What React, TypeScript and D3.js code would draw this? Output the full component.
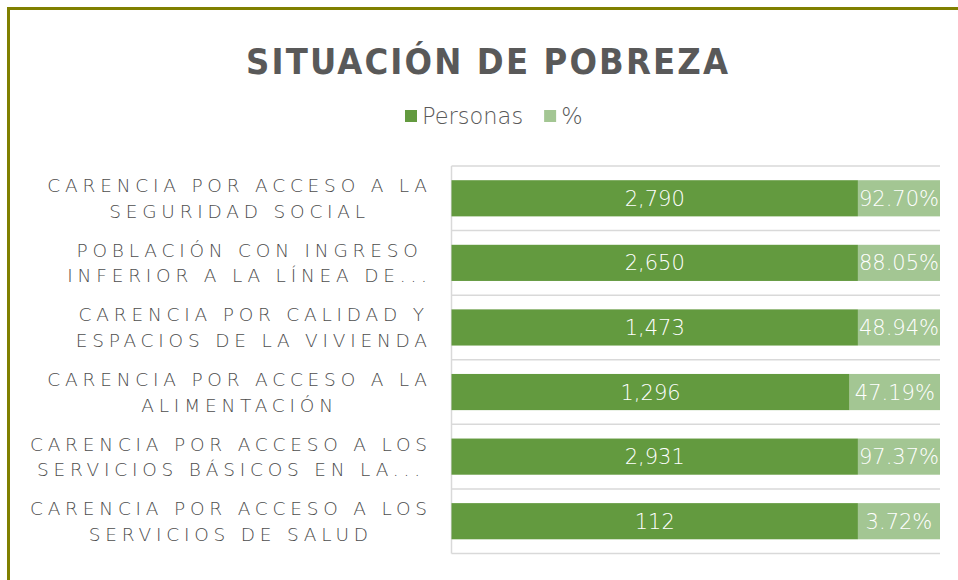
import React, { useEffect, useRef } from "react";
import * as d3 from "d3";

// ---- data ----
const categories: string[][] = [
  ["CARENCIA POR ACCESO A LA", "SEGURIDAD SOCIAL"],
  ["POBLACIÓN CON INGRESO", "INFERIOR A LA LÍNEA DE..."],
  ["CARENCIA POR CALIDAD Y", "ESPACIOS DE LA VIVIENDA"],
  ["CARENCIA POR ACCESO A LA", "ALIMENTACIÓN"],
  ["CARENCIA POR ACCESO A LOS", "SERVICIOS BÁSICOS EN LA..."],
  ["CARENCIA POR ACCESO A LOS", "SERVICIOS DE SALUD"],
];
const personas = [2790, 2650, 1473, 1296, 2931, 112];
const porcentaje = [92.7, 88.05, 48.94, 47.19, 97.37, 3.72];
// share of each bar's length taken by the "Personas" segment, as drawn in the picture
const personasShare = [0.832, 0.832, 0.832, 0.815, 0.832, 0.832];
const seriesNames = ["Personas", "%"];
const title = "SITUACIÓN DE POBREZA";

const COLORS = ["#639A3F", "#A3C693"];
const TEXT = "#595959";

export default function App() {
  const ref = useRef<SVGSVGElement | null>(null);

  useEffect(() => {
    document.body.style.margin = "0";
    const svg = d3.select(ref.current);
    svg.selectAll("*").remove();

    const plot = { left: 451.5, right: 940, top: 166, bottom: 553.5 };

    // border
    svg.append("path")
      .attr("d", `M8.5,580 L8.5,8.5 L958,8.5`)
      .attr("fill", "none")
      .attr("stroke", "#808000")
      .attr("stroke-width", 3);

    // title
    const tls = 4;
    const tt = svg.append("text")
      .attr("y", 74)
      .attr("text-anchor", "middle")
      .attr("font-family", "'DejaVu Sans Condensed', 'DejaVu Sans'")
      .attr("font-weight", "bold")
      .attr("font-size", 36)
      .attr("letter-spacing", tls)
      .attr("fill", TEXT)
      .text(title);
    const tw = (tt.node() as SVGTextElement).getComputedTextLength();
    // fit the visible width of the title to the picture (246..728)
    const targetW = 482;
    const adj = (targetW - (tw - tls)) / (title.length - 1);
    tt.attr("letter-spacing", tls + adj).attr("x", 487 + (tls + adj) / 2);

    // legend
    const lg = svg.append("g");
    let lx = 405;
    seriesNames.forEach((name, i) => {
      lg.append("rect").attr("x", lx).attr("y", 110).attr("width", 12).attr("height", 12).attr("fill", COLORS[i]);
      const t = lg.append("text")
        .attr("x", lx + 17)
        .attr("y", 123.5)
        .attr("font-family", "DejaVu Sans")
        .attr("font-weight", 300)
        .attr("font-size", 22.5)
        .attr("fill", TEXT)
        .text(name);
      const w = (t.node() as SVGTextElement).getComputedTextLength();
      lx = lx + 17 + w + 21;
    });

    const idx = d3.range(categories.length);
    const y = d3.scaleBand<number>().domain(idx).range([plot.top, plot.bottom]);
    const x = d3.scaleLinear().domain([0, 1]).range([plot.left, plot.right]);
    const bw = y.bandwidth();
    const barH = bw * 0.56;

    // gridlines
    const gridYs = idx.map((i) => y(i)!).concat([plot.bottom]);
    svg.append("g").selectAll("line").data(gridYs).join("line")
      .attr("x1", plot.left).attr("x2", plot.right)
      .attr("y1", (d) => d).attr("y2", (d) => d)
      .attr("stroke", "#D9D9D9").attr("stroke-width", 1.5);
    svg.append("line")
      .attr("x1", plot.left).attr("x2", plot.left)
      .attr("y1", plot.top).attr("y2", plot.bottom)
      .attr("stroke", "#D9D9D9").attr("stroke-width", 1.5);

    const fmtP = d3.format(",");
    const fmtPct = (v: number) => d3.format(".2f")(v) + "%";

    idx.forEach((i) => {
      const c = y(i)! + bw / 2;
      const split = personasShare[i];
      const segs = [
        { x0: 0, x1: split, label: fmtP(personas[i]), color: COLORS[0] },
        { x0: split, x1: 1, label: fmtPct(porcentaje[i]), color: COLORS[1] },
      ];
      segs.forEach((s) => {
        svg.append("rect")
          .attr("x", x(s.x0))
          .attr("y", c - barH / 2)
          .attr("width", x(s.x1) - x(s.x0))
          .attr("height", barH)
          .attr("fill", s.color);
        svg.append("text")
          .attr("x", (x(s.x0) + x(s.x1)) / 2)
          .attr("y", c + 7.5)
          .attr("text-anchor", "middle")
          .attr("font-family", "DejaVu Sans")
          .attr("font-weight", 300)
          .attr("font-size", 21)
          .attr("fill", "#FFFFFF")
          .text(s.label);
      });

      // category label (two centered lines, block right-aligned to axis)
      const ls = 4.8;
      const g = svg.append("g");
      const texts = categories[i].map((line, k) =>
        g.append("text")
          .attr("y", c - 6 + k * 25.5)
          .attr("text-anchor", "middle")
          .attr("font-family", "DejaVu Sans")
          .attr("font-weight", 300)
          .attr("font-size", 18.5)
          .attr("letter-spacing", ls)
          .attr("fill", "#4D4D4D")
          .text(line)
      );
      const maxW = d3.max(texts, (t) => (t.node() as SVGTextElement).getComputedTextLength()) || 0;
      texts.forEach((t) => t.attr("x", 427 + ls - maxW / 2));
    });
  }, []);

  return <svg ref={ref} width={958} height={580} style={{ display: "block" }} />;
}
